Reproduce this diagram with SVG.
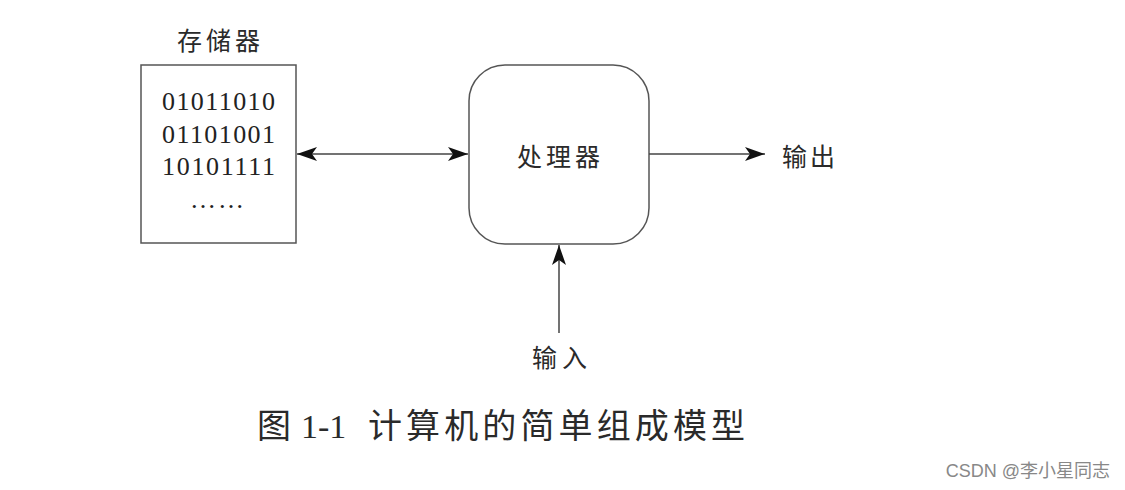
<svg xmlns="http://www.w3.org/2000/svg" width="1125" height="490" viewBox="0 0 1125 490">
<style>
.box{fill:#fff;stroke:#555;stroke-width:1.5}
.ln{stroke:#444;stroke-width:1.5;fill:none}
.cjk{font-family:"Liberation Serif","Noto Sans CJK SC",serif;fill:#2a2a2a}
.num{font-family:"Liberation Serif",serif;font-size:26px;fill:#222}
</style>
<defs>
<marker id="ah" viewBox="0 0 20 14" refX="20" refY="7" markerWidth="20" markerHeight="15" markerUnits="userSpaceOnUse" orient="auto-start-reverse">
<path d="M0,0 L20,7 L0,14 L5,7 Z" fill="#111"/>
</marker>
</defs>
<rect width="1125" height="490" fill="#fff"/>
<g id="memory">
<text class="cjk" x="177" y="50" font-size="25" textLength="83" lengthAdjust="spacing">存储器</text>
<rect class="box" x="141" y="65" width="155" height="178"/>
<text class="num" x="162" y="110" textLength="113" lengthAdjust="spacing">01011010</text>
<text class="num" x="162" y="143" textLength="113" lengthAdjust="spacing">01101001</text>
<text class="num" x="162" y="175" textLength="113" lengthAdjust="spacing">10101111</text>
<text class="num" x="190" y="208" textLength="54" lengthAdjust="spacing">……</text>
</g>
<g id="processor">
<rect class="box" x="469" y="65" width="180" height="179" rx="36" ry="36"/>
<text class="cjk" x="517" y="166" font-size="25" textLength="83" lengthAdjust="spacing">处理器</text>
</g>
<g id="output">
<text class="cjk" x="782" y="166" font-size="25" textLength="53" lengthAdjust="spacing">输出</text>
</g>
<g id="input">
<text class="cjk" x="532" y="367" font-size="25" textLength="55" lengthAdjust="spacing">输入</text>
</g>
<g id="connectors">
<line class="ln" x1="297" y1="154" x2="468" y2="154" marker-start="url(#ah)" marker-end="url(#ah)"/>
<line class="ln" x1="649" y1="154" x2="765" y2="154" marker-end="url(#ah)"/>
<line class="ln" x1="559" y1="333" x2="559" y2="245" marker-end="url(#ah)"/>
</g>
<g id="caption">
<text class="cjk" x="257" y="438" font-size="34">图</text>
<text class="cjk" x="301" y="438" font-size="34">1-1</text>
<text class="cjk" x="368" y="438" font-size="34" textLength="377" lengthAdjust="spacing">计算机的简单组成模型</text>
</g>
<text x="1110" y="477" font-family="'Liberation Sans','Noto Sans CJK SC',sans-serif" font-size="18" fill="#888" text-anchor="end">CSDN @李小星同志</text>
</svg>
